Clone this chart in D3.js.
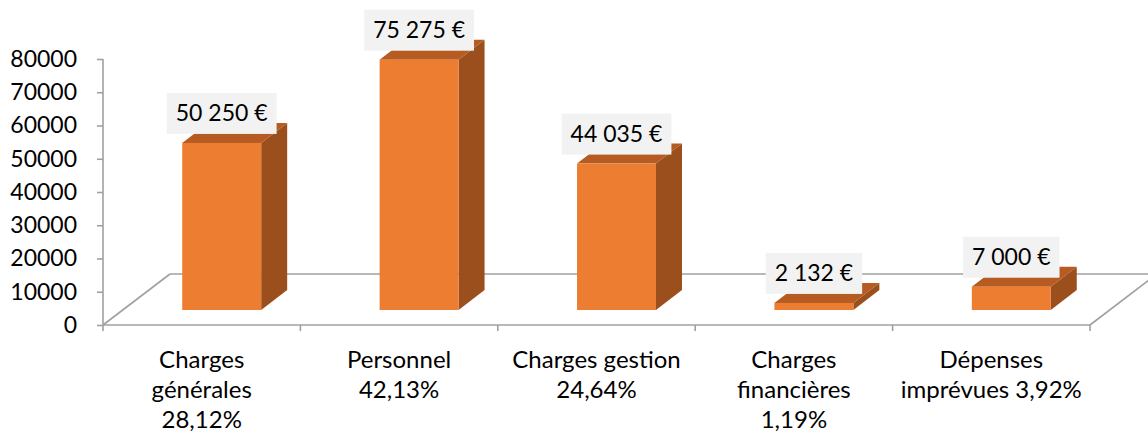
<!DOCTYPE html>
<html>
<head>
<meta charset="utf-8">
<script src="https://cdn.jsdelivr.net/npm/d3@7"></script>
<style>
  body { margin: 0; background: #fff; }
  svg text { font-family: Lato, "Open Sans", sans-serif; fill: #000; }
</style>
</head>
<body>
<div id="chart"></div>
<script>
// Data
var categories = ["Charges générales", "Personnel", "Charges gestion", "Charges financières", "Dépenses imprévues"];
var values = [50250, 75275, 44035, 2132, 7000];
var categoryLabels = [
    ["Charges", "générales", "28,12%"],
    ["Personnel", "42,13%"],
    ["Charges gestion", "24,64%"],
    ["Charges", "financières", "1,19%"],
    ["Dépenses", "imprévues 3,92%"]
];
var yTicks = [0, 10000, 20000, 30000, 40000, 50000, 60000, 70000, 80000];

var width = 1148, height = 436;

var svg = d3.select("#chart").append("svg")
    .attr("width", width)
    .attr("height", height);

// Scales
var y = d3.scaleLinear().domain([0, 80000]).range([325, 59]);
var x = d3.scaleBand().domain(categories).range([103, 1090]).padding(0);

// 3D floor depth
var depth = { dx: 67, dy: -51 };
var barOff = { dx: 20, dy: -15 };   // bar front from floor front
var barDepth = { dx: 26, dy: -20 };
var barW = x.bandwidth() * 0.4;

var euro = d3.formatLocale({ decimal: ",", thousands: " ", grouping: [3], currency: ["", " €"] }).format("$,.0f");

var gridColor = "#a0a0a0";
var floorY = y(0);

// Floor
var floor = svg.append("g").attr("class", "floor")
    .attr("fill", "none").attr("stroke", gridColor).attr("stroke-width", 1.6);
floor.append("line")
    .attr("x1", x.range()[0]).attr("y1", floorY)
    .attr("x2", x.range()[0] + depth.dx).attr("y2", floorY + depth.dy);
floor.append("line")
    .attr("x1", x.range()[0] + depth.dx).attr("y1", floorY + depth.dy)
    .attr("x2", x.range()[1] + depth.dx).attr("y2", floorY + depth.dy);
floor.append("line")
    .attr("x1", x.range()[1]).attr("y1", floorY)
    .attr("x2", x.range()[1] + depth.dx).attr("y2", floorY + depth.dy);
floor.append("line")
    .attr("x1", x.range()[0]).attr("y1", floorY)
    .attr("x2", x.range()[1]).attr("y2", floorY);

// Category ticks
svg.append("g").selectAll("line")
    .data(categories.concat([null]))
    .enter().append("line")
    .attr("x1", function(d, i){ return x.range()[0] + i * x.step(); })
    .attr("x2", function(d, i){ return x.range()[0] + i * x.step(); })
    .attr("y1", floorY).attr("y2", floorY + 6)
    .attr("stroke", gridColor).attr("stroke-width", 1.6);

// Y axis
var yAxisG = svg.append("g").attr("transform", "translate(" + x.range()[0] + ",0)")
    .call(d3.axisLeft(y).tickValues(yTicks).tickSize(6).tickPadding(20).tickFormat(d3.format("d")));
yAxisG.select(".domain").attr("stroke", gridColor).attr("stroke-width", 1.6)
    .attr("d", "M0," + y(80000) + "V" + y(0));
yAxisG.selectAll(".tick line").attr("stroke", gridColor).attr("stroke-width", 1.6);
yAxisG.selectAll(".tick text").style("font-size", "23px").attr("fill", "#000");

// Bars
var bars = svg.append("g").selectAll("g.bar")
    .data(values)
    .enter().append("g").attr("class", "bar");

function barGeom(d, i) {
    var x0 = x(categories[i]) + (x.bandwidth() - barW) / 2 + barOff.dx;
    var x1 = x0 + barW;
    var yb = y(0) + barOff.dy;
    var yt = yb - (y(0) - y(d));
    return { x0: x0, x1: x1, yb: yb, yt: yt };
}

// side
bars.append("path")
    .attr("fill", "#9b4f1d")
    .attr("d", function(d, i){
        var g = barGeom(d, i);
        return "M" + g.x1 + "," + g.yb + "L" + (g.x1 + barDepth.dx) + "," + (g.yb + barDepth.dy)
            + "L" + (g.x1 + barDepth.dx) + "," + (g.yt + barDepth.dy) + "L" + g.x1 + "," + g.yt + "Z";
    });
// top
bars.append("path")
    .attr("fill", "#b65b21")
    .attr("d", function(d, i){
        var g = barGeom(d, i);
        return "M" + g.x0 + "," + g.yt + "L" + g.x1 + "," + g.yt
            + "L" + (g.x1 + barDepth.dx) + "," + (g.yt + barDepth.dy)
            + "L" + (g.x0 + barDepth.dx) + "," + (g.yt + barDepth.dy) + "Z";
    });
// front
bars.append("rect")
    .attr("fill", "#ed7d31")
    .attr("x", function(d, i){ return barGeom(d, i).x0; })
    .attr("y", function(d, i){ return barGeom(d, i).yt; })
    .attr("width", barW)
    .attr("height", function(d, i){ var g = barGeom(d, i); return g.yb - g.yt; });

// Value labels
bars.each(function(d, i){
    var g = barGeom(d, i);
    var cx = (g.x0 + g.x1) / 2;
    var boxH = 41, boxBottom = g.yt - 9;
    var grp = d3.select(this).append("g");
    var rect = grp.append("rect").attr("fill", "#f2f2f2");
    var t = grp.append("text")
        .attr("x", cx)
        .attr("y", boxBottom - boxH / 2)
        .attr("dy", "0.35em")
        .attr("text-anchor", "middle")
        .style("font-size", "23px")
        .text(euro(d));
    var w = t.node().getComputedTextLength() + 18;
    rect.attr("x", cx - w / 2).attr("y", boxBottom - boxH).attr("width", w).attr("height", boxH);
});

// Category labels
svg.append("g").selectAll("text")
    .data(categoryLabels)
    .enter().append("text")
    .attr("text-anchor", "middle")
    .style("font-size", "24px")
    .attr("transform", function(d, i){ return "translate(" + (x(categories[i]) + x.bandwidth() / 2) + ",368)"; })
    .selectAll("tspan")
    .data(function(d){ return d; })
    .enter().append("tspan")
    .attr("x", 0)
    .attr("y", function(d, j){ return j * 30; })
    .text(function(d){ return d; });
</script>
</body>
</html>
